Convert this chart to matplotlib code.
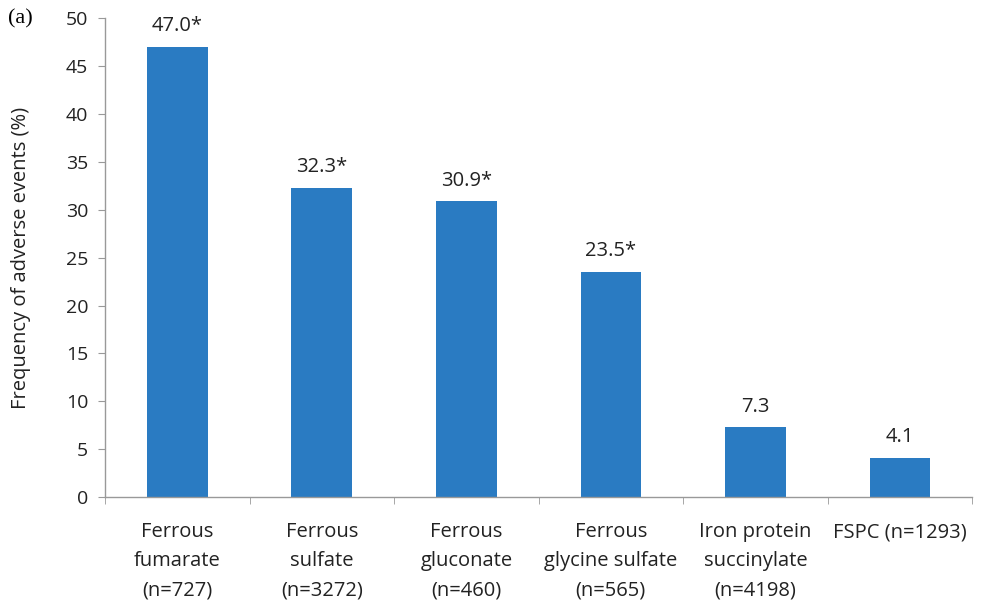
import numpy as np
import matplotlib
matplotlib.use('Agg')
import matplotlib.pyplot as plt
from matplotlib.ticker import FixedLocator

plt.rcParams['font.family'] = ['Open Sans', 'DejaVu Sans']

# Adverse event frequency per iron preparation
names = ['Ferrous\nfumarate\n(n=727)', 'Ferrous\nsulfate\n(n=3272)',
         'Ferrous\ngluconate\n(n=460)', 'Ferrous\nglycine sulfate\n(n=565)',
         'Iron protein\nsuccinylate\n(n=4198)', 'FSPC (n=1293)']
freq = [47.0, 32.3, 30.9, 23.5, 7.3, 4.1]
labels = ['47.0*', '32.3*', '30.9*', '23.5*', '7.3', '4.1']

fig = plt.figure(figsize=(9.86, 6.04), dpi=100)
ax = fig.add_axes([0.1065, 0.177, 0.8795, 0.793])

x = np.arange(len(freq))
ax.bar(x, freq, width=0.42, color='#2a7bc2')

for xi, v, s in zip(x, freq, labels):
    ax.text(xi, v + 1.1, s, ha='center', va='bottom', fontsize=14.5, color='#222222')

ax.set_xlim(-0.5, len(freq) - 0.5)
ax.set_ylim(0, 50)
ax.set_yticks(np.arange(0, 51, 5))
ax.set_xticks(x)
ax.set_xticklabels(names, fontsize=14.5, linespacing=1.6, color='#222222')
ax.xaxis.set_minor_locator(FixedLocator(np.arange(-0.5, len(freq), 1.0)))
ax.tick_params(axis='x', which='major', length=0, pad=18)
ax.tick_params(axis='x', which='minor', length=5, color='#999999', direction='out')
ax.tick_params(axis='y', length=5, color='#999999', labelsize=14, pad=7,
               labelcolor='#222222')

for side in ['top', 'right']:
    ax.spines[side].set_visible(False)
for side in ['left', 'bottom']:
    ax.spines[side].set_color('#999999')
    ax.spines[side].set_linewidth(1.0)

ax.set_ylabel('Frequency of adverse events (%)', fontsize=14.5, labelpad=25,
              color='#222222')
fig.text(0.008, 0.968, '(a)', family='Liberation Serif', fontsize=16, va='center')

plt.savefig('out.png', dpi=100)
